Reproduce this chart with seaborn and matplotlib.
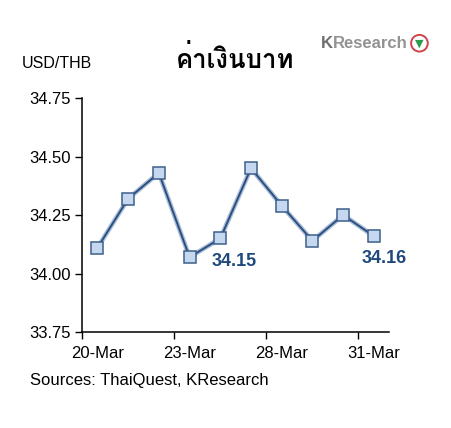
import matplotlib
matplotlib.use("Agg")
import matplotlib.pyplot as plt
from matplotlib import font_manager
import pandas as pd
import seaborn as sns

# values
days = list(range(10))
rates = [34.11, 34.32, 34.43, 34.07, 34.15, 34.45, 34.29, 34.14, 34.25, 34.16]
tick_labels = ["20-Mar", "23-Mar", "28-Mar", "31-Mar"]
label_days = [0, 3, 6, 9]
y_ticks = [33.75, 34.00, 34.25, 34.50, 34.75]

sns.set_style("ticks")
plt.rcParams["font.family"] = ["Liberation Sans", "DejaVu Sans"]
plt.rcParams["text.color"] = "black"
plt.rcParams["xtick.color"] = "black"
plt.rcParams["ytick.color"] = "black"
plt.rcParams["axes.edgecolor"] = "black"

df = pd.DataFrame({"day": days, "rate": rates})

fig = plt.figure(figsize=(4.51, 4.28), dpi=100)
ax = fig.add_axes([0.182, 0.224, 0.681, 0.547])

sns.lineplot(data=df, x="day", y="rate", ax=ax, color="#a9bddb", linewidth=3.4)
sns.lineplot(data=df, x="day", y="rate", ax=ax, color="#2c4f7c", linewidth=1.4,
             marker="s", markersize=8.5, markerfacecolor="#c6d8f0",
             markeredgecolor="#3d5f8c", markeredgewidth=1.1)

ax.set_xlim(-0.5, 9.5)
ax.set_ylim(33.75, 34.75)
ax.set_yticks(y_ticks)
ax.set_yticklabels([f"{v:.2f}" for v in y_ticks], fontsize=12)
# tick marks sit between categories, labels sit under the points
ax.set_xticks([d - 0.5 for d in label_days])
ax.set_xticklabels([])
ax.set_xticks(label_days, minor=True)
ax.set_xticklabels(tick_labels, minor=True, fontsize=12)
ax.tick_params(axis="both", length=5, width=1, color="black", labelcolor="black")
ax.tick_params(axis="x", which="minor", length=0, pad=10)
ax.tick_params(axis="y", pad=3)
ax.set_xlabel("")
ax.set_ylabel("")
sns.despine(ax=ax)
for s in ["left", "bottom"]:
    ax.spines[s].set_linewidth(1.1)

ax.text(4.45, 34.05, f"{rates[4]:.2f}", color="#1f497d", fontsize=13,
        fontweight="bold", va="center", ha="center")
ax.text(9.34, 34.066, f"{rates[9]:.2f}", color="#1f497d", fontsize=13,
        fontweight="bold", va="center", ha="center")

# Thai-capable font lookup
thai = [f.name for f in font_manager.fontManager.ttflist if "Thai" in f.name or "Loma" in f.name
        or "Garuda" in f.name or "Norasi" in f.name]
fam = (thai[:1] if thai else []) + ["Noto Sans", "DejaVu Sans"]
fig.text(0.521, 0.862, "ค่าเงินบาท", fontsize=18.5, fontweight="bold", ha="center", va="center",
         family=fam, color="black")
fig.text(0.049, 0.852, "USD/THB", fontsize=11.5, ha="left", va="center")
fig.text(0.712, 0.899, "K", fontsize=12, color="#6e6e6e", fontweight="bold",
         ha="left", va="center")
fig.text(0.739, 0.899, "Research", fontsize=12, color="#939393", fontweight="bold",
         ha="left", va="center")
fig.text(0.93, 0.899, "\u25BC", fontsize=8, color="#2e9b4e", ha="center", va="center",
         family="DejaVu Sans",
         bbox=dict(boxstyle="circle,pad=0.3", facecolor="white", edgecolor="#d0454a",
                   linewidth=1.4))
fig.text(0.066, 0.112, "Sources: ThaiQuest, KResearch", fontsize=12, ha="left", va="center")

fig.savefig("out.png", dpi=100)
